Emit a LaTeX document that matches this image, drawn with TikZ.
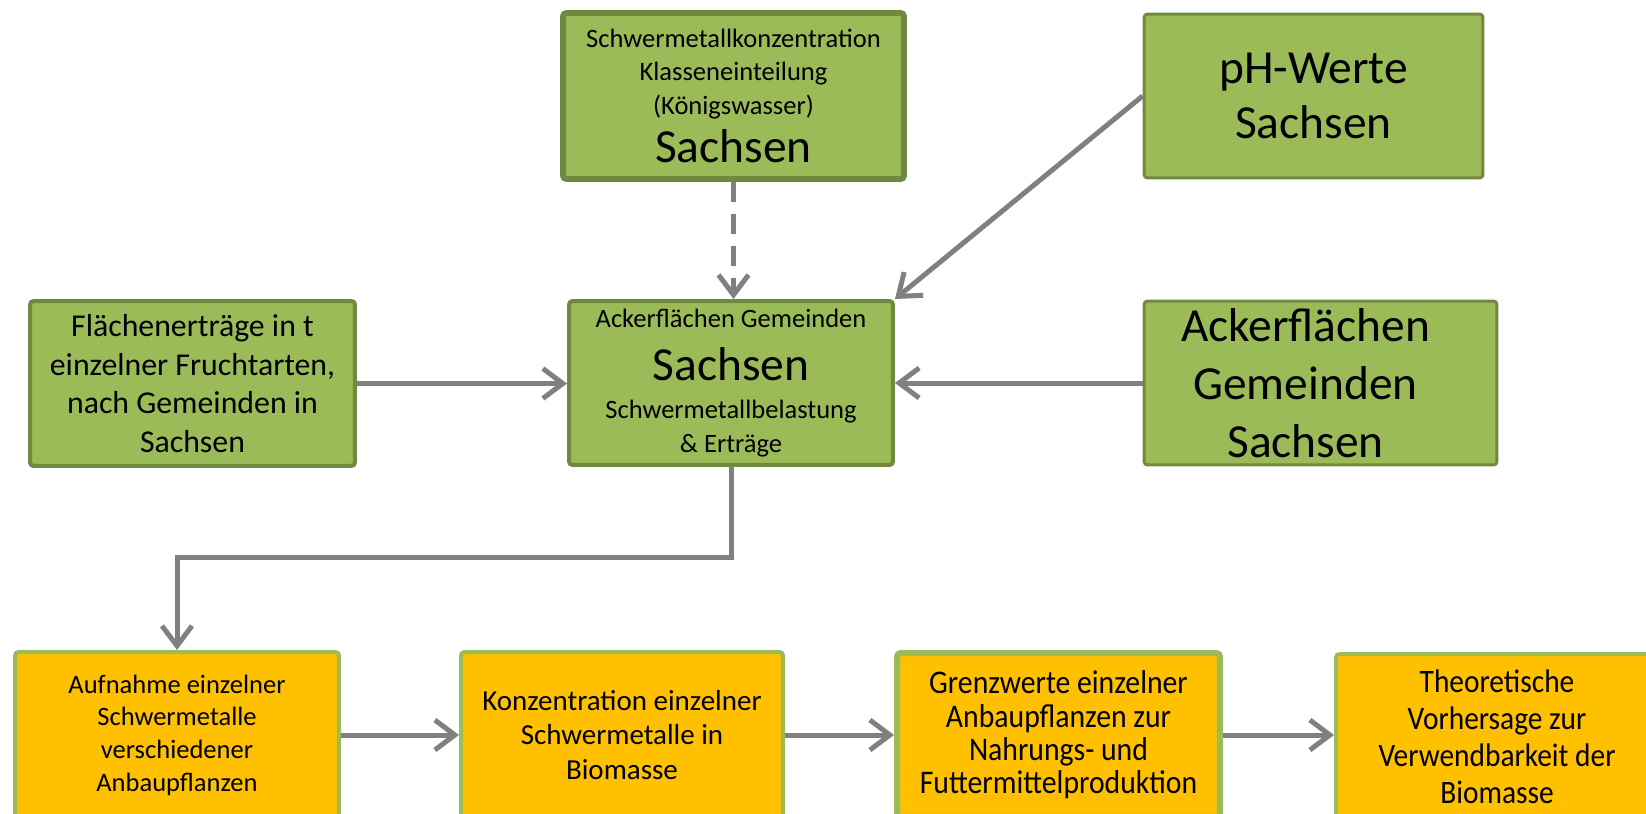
\documentclass[tikz,border=0pt]{standalone}
\usepackage{fontspec}
\setmainfont{Carlito}
\newfontfamily\narrowfont[FakeStretch=0.9]{Carlito}
\usetikzlibrary{positioning,arrows.meta}
\definecolor{boxgreen}{HTML}{9BBB59}
\definecolor{boxdark}{HTML}{71893F}
\definecolor{boxorange}{HTML}{FFC000}
\definecolor{arrgray}{HTML}{808080}
\newcommand{\smallfont}{\fontsize{15.1}{19}\selectfont\lineskiplimit=-100pt}
\newcommand{\bigfont}{\fontsize{27}{31.5}\selectfont\lineskiplimit=-100pt}

\begin{document}
\begin{tikzpicture}[x=0.02cm,y=-0.02cm]
\tikzstyle{every node}+=[inner sep=0pt, align=center]
\tikzstyle{greenbox}=[draw=boxdark, fill=boxgreen, line width=0.08cm, rounded corners=2pt]
\tikzstyle{orangebox}=[draw=boxgreen, fill=boxorange, line width=0.08cm, rounded corners=2pt, minimum height=3.32cm]
\tikzstyle{flowarrow}=[draw=arrgray, line width=0.1cm, -{Straight Barb[length=0.4cm,width=0.6cm]}]
\useasboundingbox (0,0) rectangle (1646,814);
\node[greenbox, line width=0.12cm, minimum width=6.82cm, minimum height=3.32cm, font=\smallfont] (klassen) at (733.5,96) {Schwermetallkonzentration\\Klasseneinteilung\\(Königswasser)\\[8.5pt]{\bigfont Sachsen}};
\node[greenbox, line width=0.06cm, minimum width=6.78cm, minimum height=3.28cm, font=\bigfont] (ph) at (1313.5,96) {pH-Werte\\Sachsen};
\node[greenbox, minimum width=6.5cm, minimum height=3.3cm, font=\fontsize{18.1}{21.9}\selectfont] (ertrag) at (192.5,383.5) {Flächenerträge in t\\einzelner Fruchtarten,\\nach Gemeinden in\\Sachsen};
\node[greenbox, minimum width=6.48cm, minimum height=3.28cm, font=\smallfont] (acker) at (731,383) {Ackerflächen Gemeinden\\[11pt]{\bigfont Sachsen}\\[3pt]Schwermetallbelastung\\\& Erträge};
\node[greenbox, line width=0.06cm, minimum width=7.06cm, minimum height=3.28cm, font=\fontsize{27}{33}\selectfont] (gemeinden) at (1320.5,383) {\hspace*{-0.6cm}Ackerflächen\\\hspace*{-0.6cm}Gemeinden\\\hspace*{-0.6cm}Sachsen};
\node[orangebox, minimum width=6.48cm, font=\fontsize{15.1}{18.6}\selectfont] (aufnahme) at (177,735) {Aufnahme einzelner\\Schwermetalle\\verschiedener\\Anbaupflanzen};
\node[orangebox, minimum width=6.44cm, font=\fontsize{16.5}{19.8}\selectfont] (konz) at (622,735) {Konzentration einzelner\\Schwermetalle in\\Biomasse};
\node[orangebox, line width=0.12cm, minimum width=6.46cm, minimum height=3.28cm, font=\narrowfont\fontsize{18.8}{19}\selectfont] (grenz) at (1058.5,735) {Grenzwerte einzelner\\Anbaupflanzen zur\\Nahrungs- und\\Futtermittelproduktion};
\node[orangebox, minimum width=6.44cm, font=\narrowfont\fontsize{18.6}{21}\selectfont] (vorhersage) at (1497,737) {Theoretische\\Vorhersage zur\\Verwendbarkeit der\\Biomasse};
\draw[flowarrow, dash pattern=on 0.4cm off 0.24cm] (klassen.south) -- (klassen.south |- acker.north);
\draw[flowarrow] (ph.west) -- (acker.north east);
\draw[flowarrow] (ertrag.east) -- (ertrag.east -| acker.west);
\draw[flowarrow] (gemeinden.west) -- (acker.east);
\draw[flowarrow] (acker.south) -- ++(0,91) -| (aufnahme.north);
\draw[flowarrow] (aufnahme) -- (konz);
\draw[flowarrow] (konz) -- (grenz);
\draw[flowarrow] (grenz) -- (vorhersage.west |- grenz);
\end{tikzpicture}
\end{document}
